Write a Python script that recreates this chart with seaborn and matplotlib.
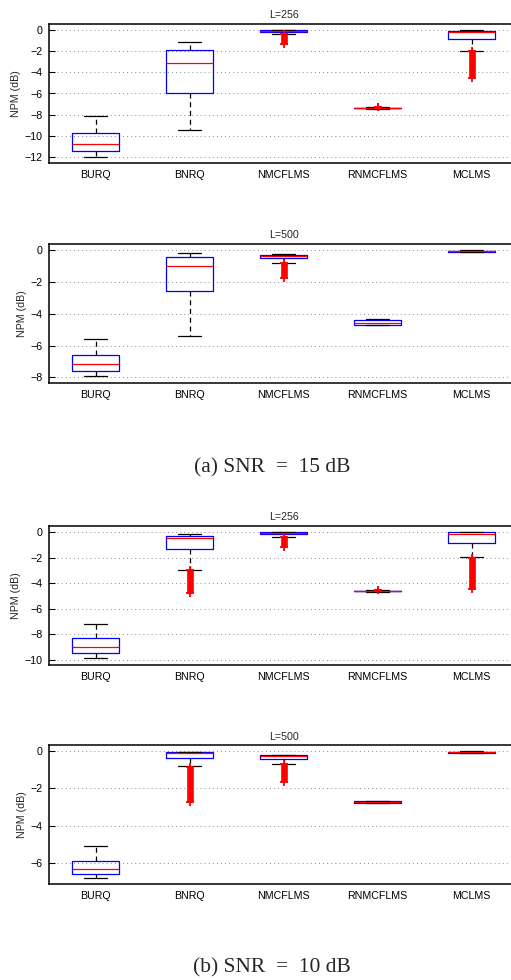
import pandas as pd
import matplotlib.pyplot as plt
import seaborn as sns

methods = ['BURQ', 'BNRQ', 'NMCFLMS', 'RNMCFLMS', 'MCLMS']

# five-number summary per method: lower whisker, q1, median, q3, upper whisker
snr15_L256 = [[-12.0, -11.46, -10.77, -9.78, -8.17],
              [-9.47, -5.95, -3.10, -1.84, -1.14],
              [-0.38, -0.19, -0.10, 0.0, 0.03],
              [-7.45, -7.42, -7.38, -7.34, -7.28],
              [-1.96, -0.86, -0.15, -0.03, 0.03]]
snr15_L500 = [[-7.94, -7.60, -7.18, -6.58, -5.56],
              [-5.38, -2.54, -1.01, -0.40, -0.19],
              [-0.77, -0.50, -0.35, -0.29, -0.25],
              [-4.73, -4.68, -4.56, -4.41, -4.35],
              [-0.12, -0.10, -0.06, -0.02, 0.0]]
snr10_L256 = [[-9.87, -9.48, -9.01, -8.31, -7.19],
              [-2.94, -1.35, -0.49, -0.29, -0.18],
              [-0.36, -0.18, -0.10, -0.03, 0.0],
              [-4.70, -4.65, -4.63, -4.60, -4.55],
              [-1.95, -0.83, -0.13, -0.02, 0.0]]
snr10_L500 = [[-6.83, -6.61, -6.31, -5.91, -5.08],
              [-0.81, -0.38, -0.11, -0.06, -0.05],
              [-0.70, -0.43, -0.27, -0.22, -0.20],
              [-2.80, -2.77, -2.72, -2.68, -2.65],
              [-0.08, -0.07, -0.04, -0.02, 0.0]]

# extent of the dense outlier clouds (top, bottom), None where there are none
out15_L256 = [None, None, (-0.35, -1.27), (-7.27, -7.27), (-2.0, -4.52)]
out15_L500 = [None, None, (-0.8, -1.73), None, None]
out10_L256 = [None, (-3.0, -4.78), (-0.4, -1.19), (-4.58, -4.58), (-2.0, -4.47)]
out10_L500 = [None, (-0.85, -2.72), (-0.7, -1.64), None, None]

panels = [
    ('L=256', snr15_L256, out15_L256, (-12.6, 0.6), range(-12, 1, 2)),
    ('L=500', snr15_L500, out15_L500, (-8.35, 0.4), range(-8, 1, 2)),
    ('L=256', snr10_L256, out10_L256, (-10.4, 0.5), range(-10, 1, 2)),
    ('L=500', snr10_L500, out10_L500, (-7.15, 0.32), range(-6, 1, 2)),
]
captions = ['(a) SNR  =  15 dB', '(b) SNR  =  10 dB']

sns.set_theme(style='white', context='paper')
plt.rcParams['font.family'] = ['Liberation Sans', 'DejaVu Sans']

W, H = 511, 980
fig = plt.figure(figsize=(W / 100, H / 100), dpi=100)
tops = [24, 244, 525.7, 745.3]
ax_h = 139
fs = 7.7

for (title, summary, outs, ylim, yticks), top in zip(panels, tops):
    ax = fig.add_axes([48.5 / W, 1 - (top + ax_h) / H, 470 / W, ax_h / H])
    df = pd.DataFrame([(m, v) for m, vals in zip(methods, summary) for v in vals],
                      columns=['method', 'npm'])
    for t in yticks:
        ax.axhline(t, color='#8a8a8a', lw=0.7, ls=(0, (1, 3.2)), zorder=0)
    sns.boxplot(data=df, x='method', y='npm', order=methods, ax=ax,
                width=0.5, whis=(0, 100), fill=False, linewidth=0.9,
                showfliers=False,
                boxprops=dict(color='blue'),
                medianprops=dict(color='red'),
                whiskerprops=dict(color='black', linestyle=(0, (4, 3))),
                capprops=dict(color='black'))
    for i, o in enumerate(outs):
        if o is None:
            continue
        ax.vlines(i, o[1], o[0], color='red', lw=4.8, zorder=4)
        ax.plot([i, i], [o[0], o[1]], ls='none', marker='+', color='red',
                ms=6, mew=1.3, zorder=4)
    ax.set_xlim(-0.5, 4.5)
    ax.set_ylim(*ylim)
    ax.set_yticks(list(yticks))
    ax.set_xlabel('')
    ax.set_ylabel('NPM (dB)', fontsize=fs, labelpad=3)
    ax.set_title(title, fontsize=fs, pad=4)
    ax.tick_params(axis='y', direction='in', length=4, width=0.8, labelsize=fs,
                   pad=4, left=True, colors='black')
    ax.tick_params(axis='x', length=0, labelsize=fs, pad=5, colors='black')
    for s in ax.spines.values():
        s.set_color('black')
        s.set_linewidth(1.1)

fig.text(272 / W, 1 - 468 / H, captions[0], family='Liberation Serif',
         fontsize=15.5, ha='center', va='center')
fig.text(272 / W, 1 - 968 / H, captions[1], family='Liberation Serif',
         fontsize=15.5, ha='center', va='center')

fig.savefig('out.png', dpi=100)
